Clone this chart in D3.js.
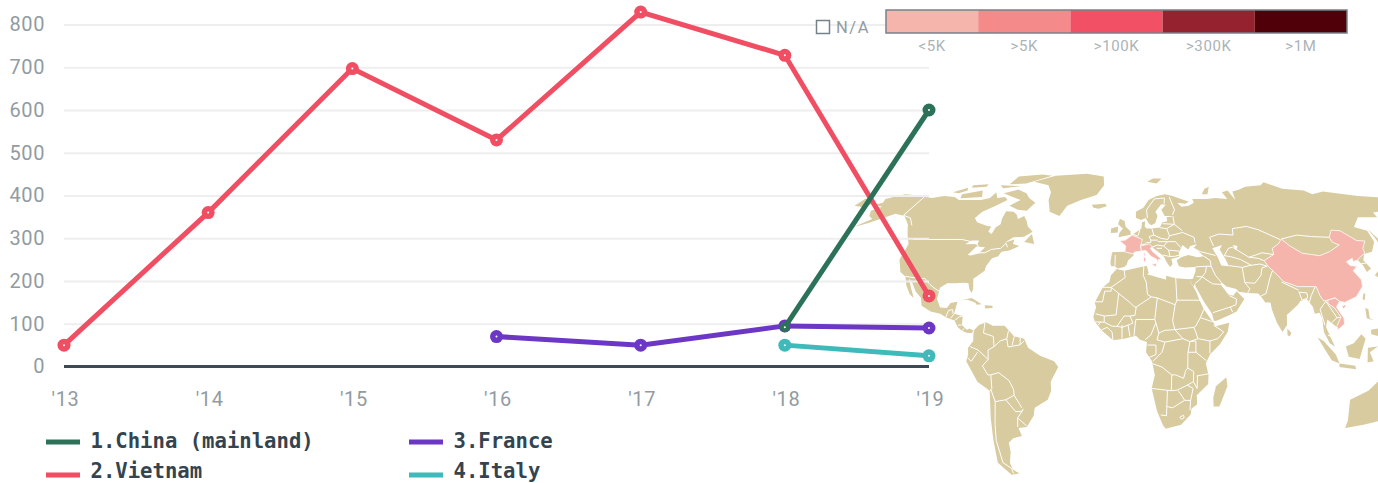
<!DOCTYPE html>
<html lang="en">
<head>
<meta charset="UTF-8">
<title>Line chart with world map</title>
<script src="https://d3js.org/d3.v7.min.js"></script>
<style>
  html, body { margin: 0; padding: 0; background: #fff; overflow: hidden; }
  svg { display: block; }
  text { font-family: Roboto, "Liberation Sans", sans-serif; }
  .axis text { font-size: 20px; fill: #929ba1; letter-spacing: 0.6px; }
  .axis path { display: none; }
  .y-axis line { stroke: #eeeeee; stroke-width: 2px; }
  .x-axis line { display: none; }
  .legend-label { font-family: "DejaVu Sans Mono", monospace; font-size: 20.6px; font-weight: 700; fill: #34444f; }
  .scale-label { font-size: 15px; fill: #abb3b8; letter-spacing: 0.6px; }
  .na-label { font-size: 16.5px; fill: #929ba1; letter-spacing: 1.6px; }
</style>
</head>
<body>
<svg width="1378" height="483"></svg>
<script>
// chart data
const years = ["'13", "'14", "'15", "'16", "'17", "'18", "'19"];
const yTicks = [0, 100, 200, 300, 400, 500, 600, 700, 800];
const vietnam = [50, 360, 697, 530, 829, 728, 165];
const france = [null, null, null, 70, 50, 95, 90];
const italy = [null, null, null, null, null, 50, 25];
const china = [null, null, null, null, null, 92, 600];

const legendNames = ["1.China (mainland)", "2.Vietnam", "3.France", "4.Italy"];
const scaleLabels = ["<5K", ">5K", ">100K", ">300K", ">1M"];
const scaleColors = ["#f5b5ac", "#f48a8a", "#f25065", "#94222f", "#4f0008"];

// map data, [lon, lat]
const landShapes = [
  // north america
  [[-168,65.5],[-164,66.5],[-166,68.5],[-157,71],[-150,70.5],[-141,69.6],[-135,69],[-128,70],[-120,69.5],[-115,68],[-108,68],[-100,68],[-95,69],[-94,72],[-90,69],[-85,69.5],[-82,68],[-87,65],[-93,62],[-95,59],[-92,57],[-85,55.3],[-82,55],[-82,52.5],[-79.5,51.5],[-79,54.5],[-77,56],[-78,59],[-78,62.3],[-73,62],[-70,60.5],[-68,58.5],[-65,60],[-62,57.5],[-60,55],[-56,52.5],[-60,50.2],[-66,50],[-70,47.5],[-65,49],[-65,47],[-61,46],[-66,44],[-70,43.5],[-71,41.5],[-74,40.5],[-76,37],[-76,35],[-81,31.5],[-80,27],[-80.5,25.2],[-82,27],[-83,29.5],[-85,29.7],[-90,29.5],[-94,29.5],[-97.3,27.5],[-97.7,22.5],[-95.5,18.8],[-92,18.6],[-90.5,20.8],[-87,21.3],[-88,16],[-83.5,15],[-83.5,11],[-81,9],[-79.5,9.5],[-77.5,8.5],[-78,7.5],[-80.5,7.5],[-83,8.3],[-85.5,10],[-87.5,13],[-92,14.5],[-95,16],[-100,17],[-105,19.5],[-106,23],[-109.5,26],[-112.5,30],[-114.7,31.5],[-112,27],[-109.7,23],[-112,24.5],[-115,28.5],[-117,32.5],[-120.5,34.5],[-124,40],[-124,47],[-128,51],[-133,56],[-140,60],[-147,61],[-152,59],[-158,56.5],[-164,54.7],[-158,58.5],[-162,60],[-165,62.5],[-161,64.5]],
  // arctic canada and greenland
  [[-80,73.5],[-72,71.5],[-68,69],[-62,66.5],[-65,62.5],[-71,63],[-78,65],[-73,68],[-82,70],[-88,71.5]],
  [[-117,71],[-105,73],[-101,69.5],[-115,68.8]],
  [[-90,76.5],[-78,77],[-72,79],[-63,82],[-72,83],[-90,81.5]],
  [[-125,72],[-118,74.5],[-116,73],[-120,71.5]],
  [[-96,76],[-80,75.5],[-92,74.3]],
  [[-117,76],[-106,76.5],[-105,75],[-115,74.5]],
  [[-59,47.8],[-56,51.5],[-53,47]],
  [[-73,78],[-60,82],[-35,83.5],[-20,81.5],[-18,76],[-22,70.5],[-32,68],[-40,65],[-43,60],[-50,62],[-54,68],[-55,72],[-60,76]],
  [[-24,65.5],[-15,66],[-14,64.7],[-19,63.5],[-22.5,64]],
  // caribbean
  [[-85,22],[-80,23],[-74.5,20.2],[-77,20],[-78,21],[-82,22.2]],
  [[-73,19.8],[-69,19.6],[-68.8,18.5],[-72.5,18.3]],
  // south america
  [[-77.5,8.5],[-75,11],[-71.5,12.3],[-68,10.7],[-62,10.7],[-57,6],[-52,5],[-50,1],[-44,-2.5],[-37,-5],[-35,-7.5],[-39,-14],[-39,-18],[-41,-22],[-48,-25.5],[-49,-29],[-53.5,-34],[-58,-34.5],[-57,-38],[-62,-39],[-65,-41],[-65.5,-45],[-68,-50],[-68,-53],[-65,-55],[-70,-55.5],[-75,-50],[-73,-40],[-71.5,-30],[-70.2,-18],[-76,-14],[-81,-5],[-80,-2],[-80,1],[-77.5,4],[-77.5,7]],
  // africa
  [[-6,35.8],[-2,35],[10,37.2],[11,34],[10,33.5],[15,32.3],[20,31],[20,32.8],[25,31.7],[32.5,31.2],[32.5,30],[35,26],[37,21],[38.5,18],[43,12],[44,10.5],[51,12],[50,8],[46,2.5],[41,-2],[39,-6],[40.5,-11],[40.5,-15],[35,-20],[35.5,-24],[32.7,-26],[32.5,-28.5],[28,-33],[20,-34.8],[18.3,-33],[15,-27],[12,-17],[13.5,-11],[12,-5],[9,-1],[9.5,3.5],[6,4.5],[4,6.3],[-2,5],[-7.5,4.3],[-13,8.5],[-16.7,12.5],[-17.5,14.7],[-16.2,19],[-17,21],[-13,27.7],[-9.7,30],[-9,33]],
  [[49.5,-12],[50.3,-16],[47,-25],[44,-25],[43.5,-21],[44.5,-16]],
  // eurasia
  [[-9,37],[-9.5,38.7],[-8.8,43.2],[-2,43.5],[-1.2,46],[-4.7,48.4],[-1.5,48.7],[1.5,50.5],[4,52],[8,54],[8.5,57],[10.5,57.5],[10,55],[11,54],[14,54],[19,54.5],[21,57],[24,57.5],[24,59.4],[30,60],[23,60],[21.5,63],[25,65.5],[22,65.7],[17.5,62],[18.5,60],[16.5,56.5],[14,55.5],[12.5,56.5],[11,59],[8,58],[5,59],[5,62],[10,64],[14,68],[20,70],[26,71],[31,70],[41,67],[38,66],[33,66.5],[35,64.5],[40,65],[44,66.5],[44,68.5],[54,68.5],[60,69],[68,68.5],[67,72],[72,73],[73,68],[75,72.5],[81,73.5],[87,75],[100,76],[105,77.7],[113,74],[127,73],[130,71],[140,72.5],[160,70],[170,69.5],[180,69],[180,65],[177,62.5],[170,60],[163,60],[163,56],[157,51],[155.5,57],[164,62.5],[156,61.7],[155,59.3],[143,59.3],[135,54.7],[141,53],[140,48],[135,43.5],[130,42.5],[127.5,39.8],[129.5,36],[126.5,34.5],[126,37.5],[124.5,39.8],[121.5,39],[122,40.5],[118,39],[119,37.3],[122.5,37],[119.5,35],[122,31],[121.5,28],[117,23.5],[110.5,21],[108,21.5],[106,19],[109,14],[109,11.5],[105.5,9],[105,10],[100.5,13.5],[99.5,10],[103.5,1.5],[101,3],[98.3,8],[98,14],[97,16.5],[94.5,16],[94,19],[91.5,22.5],[88,21.7],[86.5,20],[80.3,15.5],[80,11],[77.5,8],[75,12],[73,18],[72.7,21],[70,21],[69,22.5],[67,25],[61.5,25.2],[57,25.7],[56,27],[51,28],[48.5,30],[48,29],[50,26.5],[51.5,24.5],[54,24],[56,26],[59.5,22.5],[55,17],[52,15.7],[45,13],[43.3,12.8],[42.5,16],[39,21],[35,28],[34.8,29.5],[34,27.8],[32.6,30],[32.3,31.2],[34,31.5],[35.9,35],[36,36.7],[30.5,36.5],[27.3,37],[26.3,39.5],[29,41],[33,42],[38,41],[41.5,41.5],[38,44.5],[36.7,45.2],[39,47],[35,46],[33.5,44.5],[30.7,46.5],[28,43],[28,41.2],[26,40.8],[23.5,40.2],[24,38],[22.5,36.7],[21,38.5],[19.5,41.5],[15,44.5],[13.5,45.6],[12.4,45],[13.7,43.5],[16,41.8],[18.3,40],[16.5,40],[16,38],[15.7,40],[12.5,41.5],[10,44],[8,44],[3.5,43.3],[3,41.8],[0,39.5],[-0.7,37.7],[-2,36.7],[-5.5,36],[-7,37]],
  [[-180,68.9],[-175,67.5],[-170,66],[-173,64.3],[-180,65]],
  // islands
  [[-5.5,50],[1.5,51.2],[1.5,52.8],[-1.5,55],[-2,57.5],[-5,58.6],[-6,56],[-3,54],[-5,52]],
  [[-10,52],[-6,52.2],[-6,55],[-10,54]],
  [[15,78],[20,80],[27,80],[22,77]],
  [[52,71],[56,74],[68,77],[60,75],[56,71]],
  [[130,33],[132,34.5],[136,35.7],[140,38],[141,41],[142,45],[145,43.5],[141.5,42],[142,38.5],[140,35],[136,33.7],[132,31.5]],
  [[142,54],[143.5,49],[142,46],[142,50]],
  [[120,22.5],[121,25],[122,25],[121,22]],
  [[80,9.5],[82,7.5],[81,6],[80,6.5]],
  [[120.5,18.5],[122,18],[122,14],[124,13],[120.5,14]],
  [[122,9],[126,9.5],[126,6],[122,7]],
  [[95,5.5],[98,4],[104,-2],[106,-6],[102,-4.5],[98,1]],
  [[106,-6],[114,-7],[114.5,-8.5],[106,-7.5]],
  [[109,1.5],[113,3],[117,7],[119,5],[117.5,1],[116,-4],[110.5,-3]],
  [[120,1],[125,1.5],[121,-1],[123,-5],[120,-5.5]],
  [[131,-1],[141,-2.5],[147,-6],[150.5,-10.5],[144,-8],[138,-8],[133,-4]],
  [[113.5,-22],[122,-18],[126,-14],[131,-12],[136,-12],[135.5,-15],[140,-17.5],[142,-11],[146,-19],[153,-26],[150,-37],[143,-39],[138,-35],[131,-31.5],[124,-33],[115,-34.5],[115,-31]]
];
const waterShapes = [
  [[47,45],[53,46.5],[51,44.5],[53,40],[54,37],[50,37.3],[49,41]],
  [[-92,46.8],[-85,47],[-85,48.5],[-89,48.5]],
  [[-88,42],[-85,45.8],[-80,45.5],[-82,43],[-79,43.5],[-86,41.8]],
  [[59,46.5],[61.5,46],[60,44]]
];
const pinkShapes = [
  // china
  [[73.7,39.5],[80,42.2],[80.5,45],[85,47],[87.8,49.2],[91,46],[96,42.8],[105,41.7],[111.5,43.5],[119,46.5],[116,47.8],[116,50],[120,53.3],[125,53],[130.5,48.5],[135,48.3],[131,45],[130.5,42.8],[127.5,41.5],[124.5,39.8],[121.5,39],[122,40.5],[118,39],[119,37.3],[122.5,37],[119.5,35],[122,31],[121.5,28],[117,23.5],[110.5,21],[108,21.5],[106,23],[102,22],[100,21.7],[98.5,24],[97.5,28],[92,28],[88,28],[81,30.3],[78.8,33],[75,37]],
  [[108.7,19.3],[110.5,20],[111,19.5],[109.5,18.2]],
  // vietnam
  [[102,22],[106,23],[108,21.5],[106,19],[109,14],[109,11.5],[105.5,9],[105,10.5],[107.5,14.5],[105,18.5],[102,20.5]],
  // france
  [[-1.8,43.4],[3,42.5],[3.5,43.3],[7.5,43.8],[7,46],[8.2,49],[2.5,51],[1.5,50.5],[-1.5,48.7],[-4.7,48.4],[-1.2,46]],
  [[8.6,42.9],[9.5,43],[9.4,41.5],[8.8,41.5]],
  // italy
  [[7.5,43.8],[10,44],[12.5,41.5],[15.7,40],[16,38],[16.5,40],[18.3,40],[16,41.8],[13.7,43.5],[12.4,45],[13.6,45.7],[12,47],[7,46]],
  [[12.5,38],[15.5,38.2],[15,36.7]],
  [[8.3,41],[9.7,41],[9.6,39],[8.5,39]]
];
const borders = [
  // north america
  [[-141,69.6],[-141,60.3],[-135,59],[-130,55.5]],
  [[-123,49],[-95,49],[-89,48],[-84.5,46.5],[-82.5,43],[-79,43],[-76,44.5],[-71,45],[-69,47.3],[-67.5,45.5]],
  [[-117,32.5],[-108,31.5],[-106.5,31.7],[-103,29],[-99.5,27],[-97.3,26]],
  [[-92,14.5],[-91,17.5],[-89,17.8],[-88.5,16]],[[-89.5,14],[-88,15.8]],[[-87.5,13],[-85,14.8],[-83.5,15]],
  [[-85.5,11],[-83.7,11]],[[-83,8.5],[-82.5,9.5]],[[-77.5,8.5],[-77.9,7.3]],
  // south america
  [[-72,12],[-72.5,7.5],[-67.5,6],[-67,1.5],[-70,0],[-70,-4.2],[-73,-7],[-70.5,-11],[-69,-11],[-69,-17],[-69.5,-17.5],[-70.3,-18.3]],
  [[-79,1.5],[-75,0],[-70,-4.2]],[[-80.3,-3.4],[-78.5,-5],[-75.3,-1]],
  [[-69.5,-17.5],[-68,-22.8],[-70,-33],[-71.5,-40],[-72,-50],[-68.5,-52.5],[-68.5,-55]],
  [[-69,-11],[-65,-10],[-60,-13.5],[-58,-17.5],[-58,-20],[-55.5,-24],[-54.7,-25.5]],
  [[-58,-20],[-62.5,-22],[-68,-22.8]],[[-62.5,-22],[-58,-27.3],[-54.7,-27],[-54,-26]],
  [[-54.7,-27],[-57.5,-30],[-53.5,-33.5]],[[-57.5,-30],[-58.3,-34]],
  [[-60,8.5],[-60.7,5],[-60,1.3],[-54,2.3],[-52,4]],[[-57,6],[-58,2]],[[-54,5.7],[-54,2.3]],[[-67,1.5],[-64,4],[-60.7,5]],
  // africa
  [[-2,35],[-1.5,32],[-8.7,27.7],[-13,27.7]],[[-8.7,27.7],[-8.7,26],[-12,26],[-13,21.3],[-17,21.3]],
  [[-8.7,27.7],[-4.8,25],[1,21],[3.3,19],[4.2,19],[12,23.5],[15,23],[24,20],[25,22],[25,31.7]],
  [[-4.8,25],[-6,15.5],[-12,15],[-16.4,16]],[[8.5,37],[8,33],[9.5,30],[10,24.5],[12,23.5]],
  [[25,22],[36.8,22]],[[24,20],[22.5,13],[23.5,9]],[[15,23],[13.5,13.5]],[[4.2,19],[3.5,15.3],[1,15]],
  [[3,6.3],[3.6,11.5],[4,13.5],[13.5,13.5],[14,12],[11.5,6.7],[8.7,4.6]],
  [[-5.5,10.5],[-3,10],[0,11],[2.5,11.9],[1,15],[-2,15],[-5.5,10.5]],
  [[-16.7,12.4],[-12,12.3],[-8,10.5],[-5.5,10.5]],[[-12,12.3],[-12,15]],[[-15,10.9],[-13.7,12.6]],
  [[-13,9],[-10.5,10],[-8,8],[-7.5,4.3]],[[-3,5],[-3,11]],[[1,6],[0,11]],
  [[14,12],[15.5,7.5],[14.5,4.5],[18.5,3.5],[27.5,5],[23.5,9],[18.5,8.7],[15.5,7.5]],
  [[23.5,9],[33,10],[34,8],[35,5],[31,3.7],[27.5,5]],[[38.5,18],[36.5,14.3],[34,10.5],[33,10]],[[36.5,14.3],[42.5,12.5]],
  [[43,11],[48,8],[45,5],[41,4],[35,5]],[[41,4],[41,-1.5]],[[34,-1],[39.2,-4.7]],[[31,3.7],[34,4],[34,-1],[30,-1],[31,3.7]],
  [[12.5,-5],[17,-1],[18.5,3.5]],[[9.8,2.2],[14,2.2],[14,-2],[10,-3.5]],
  [[12.2,-6],[17,-7.5],[22,-11],[24,-11],[28,-12.5],[29,-9],[30,-8],[30,-1]],
  [[34.5,-11.5],[40.5,-10.5]],[[30,-8],[33,-9.5],[33,-14],[35,-17],[35,-11.5]],
  [[22,-11],[22,-18]],[[12,-17],[22,-18],[25,-17.7],[30,-15.5],[33,-17],[32,-22.3],[29,-22.2],[25.5,-18]],
  [[20,-18],[20,-29],[17,-28.7]],[[20,-25],[23,-25.5],[29,-22.2]],[[32,-22.3],[32,-26.7]],[[30,-15.5],[33,-14]],
  [[27,-29.7],[28.7,-28.8],[29.3,-29.9],[28,-30.6],[27,-29.7]],
  // europe
  [[-7,37.2],[-7,42]],[[6,51],[7,53.5]],[[3,51.3],[6,50.5]],[[14.2,54],[15,51],[12.2,50.3],[13,48.7],[17,48.7]],
  [[10,47.5],[13,47.7],[13,48.7]],[[6,46.3],[10,47]],[[19,54.4],[23,54],[24,50.7],[22.8,49],[19,49.5],[15,51]],
  [[24,50.7],[32,52.2],[38,50],[38,47.5]],[[17,48],[22.5,48],[20,46],[16.5,46.5],[13.5,45.5]],[[22.5,48],[27,48],[29.5,45.3]],
  [[20,46],[22.5,44.2],[28.5,43.7]],[[22.5,44.2],[23,41.3],[26,41.5],[28,42]],[[19,42],[23,41.3]],[[19,45],[16,45]],
  [[12,59],[12,63],[18,68.5],[25,69],[24,66]],[[28.5,69.5],[30,63],[28,60.5]],[[21,56.3],[28,56],[28,59.5]],[[23,54],[28,56],[32,53]],
  // asia
  [[48,46],[47,50],[53,51.5],[61,51],[62,54],[71,55],[77,53.5],[87,49]],[[52.5,41.5],[56,45],[58.5,45.5],[61,44],[66,41],[70,42],[74,43],[80,42.2]],
  [[87.8,49.2],[98,51],[106,50.3],[116,50]],[[37,44.8],[40,43.5],[48,41.8]],[[41.5,41.5],[44.5,39.5],[44.5,37],[46,33],[48.5,30]],
  [[36,36.7],[42,37],[44.5,37]],[[42,37],[41,34.3],[39,32.3],[36,32.5]],[[35,29.5],[37.5,31],[39,32.3],[44,29.2],[48,29]],
  [[43,16.5],[52,19],[55,20],[55.5,22.5],[52,24]],[[52,19],[53,16.7]],[[53.8,37.3],[61,36.5],[60.8,30],[61,29.5],[63,27],[61.5,25.2]],
  [[60.8,29.8],[66,29.5],[70,33],[71.5,36.3],[74.5,37]],[[61,36.5],[65,37.3],[71,38],[74.5,37]],[[52.7,41.7],[56,41.3],[61,40],[66,37.5]],
  [[66,41],[71,40.5],[73.5,39.5]],[[68,23.8],[71,25],[74.5,32],[77,35.5]],[[80,30],[88,26.5]],[[88,26],[89,22],[92,23],[92,25.2],[88.5,25.5]],
  [[92.5,21],[94,24],[97,28]],[[98.5,24],[101,21.5],[97.5,18],[99,11]],[[101,21.5],[105.5,14.3]],[[102.5,12],[105.5,14.3],[107.5,14.5]],
  [[100.2,6.5],[102,6]],[[125,38],[128.5,38.5]],[[141,-2.5],[141,-9]]
];

const svg = d3.select("svg");

// Robinson table, every 5 degrees of latitude
const robinsonLen = [1,.9986,.9954,.99,.9822,.973,.96,.9427,.9216,.8962,.8679,.835,.7986,.7597,.7186,.6732,.6213,.5722,.5322];
const robinsonDepth = [0,.062,.124,.186,.248,.31,.372,.434,.4958,.5571,.6176,.6769,.7346,.7903,.8435,.8936,.9394,.9761,1];
const lenAt = d3.scaleLinear().domain(d3.range(0, 95, 5)).range(robinsonLen);
const depthAt = d3.scaleLinear().domain(d3.range(0, 95, 5)).range(robinsonDepth);
function robinsonRaw(lambda, phi) {
  const deg = Math.abs(phi) * 180 / Math.PI;
  return [0.8487 * lenAt(deg) * lambda, 1.3523 * depthAt(deg) * Math.sign(phi)];
}
const projection = d3.geoProjection(robinsonRaw).scale(135).translate([1128, 350]);
const mapLine = d3.line(p => projection(p)[0], p => projection(p)[1]);

// map goes under the chart
const map = svg.append("g");
map.selectAll(".land").data(landShapes).enter().append("path")
  .attr("d", d => mapLine(d) + "Z").attr("fill", "#d8cb9f");
map.selectAll(".water").data(waterShapes).enter().append("path")
  .attr("d", d => mapLine(d) + "Z").attr("fill", "#fff");
map.selectAll(".border").data(borders).enter().append("path")
  .attr("d", mapLine).attr("fill", "none").attr("stroke", "#fff").attr("stroke-width", 1);
map.selectAll(".pink").data(pinkShapes).enter().append("path")
  .attr("d", d => mapLine(d) + "Z").attr("fill", scaleColors[0]).attr("stroke", "#fff").attr("stroke-width", 0.8);

// scales and axes
const x = d3.scalePoint().domain(years).range([64, 929]);
const y = d3.scaleLinear().domain([0, 800]).range([366.5, 24.5]);

svg.append("g").attr("class", "axis y-axis")
  .attr("transform", "translate(64,0)")
  .call(d3.axisLeft(y).tickValues(yTicks).tickSize(-865).tickPadding(19).tickFormat(d3.format("d")));
svg.selectAll(".y-axis line").attr("x1", 0);
svg.append("g").attr("class", "axis x-axis")
  .attr("transform", "translate(1,366.5)")
  .call(d3.axisBottom(x).tickSize(0).tickPadding(25));

svg.append("line")
  .attr("x1", x(years[0])).attr("x2", x(years[6]))
  .attr("y1", y(0)).attr("y2", y(0))
  .attr("stroke", "#3b4a54").attr("stroke-width", 3);

// lines and dots
const series = [
  {values: vietnam, color: "#f04e63"},
  {values: france, color: "#6c37c4"},
  {values: italy, color: "#3fb9b9"},
  {values: china, color: "#2c7259"}
];
const line = d3.line()
  .defined(d => d != null)
  .x((d, i) => x(years[i]))
  .y(d => y(d));

series.forEach(s => {
  svg.append("path")
    .attr("d", line(s.values))
    .attr("fill", "none")
    .attr("stroke", s.color)
    .attr("stroke-width", 5);
  const points = s.values.map((v, i) => ({v, year: years[i]})).filter(p => p.v != null);
  svg.append("g").selectAll("circle").data(points).enter().append("circle")
    .attr("cx", p => x(p.year)).attr("cy", p => y(p.v))
    // the green '18 dot sits inside the purple one
    .attr("r", p => s.values === china && p.year === "'18" ? 5 : 6.5)
    .attr("fill", s.color);
  svg.append("g").selectAll("circle").data(points).enter().append("circle")
    .attr("cx", p => x(p.year)).attr("cy", p => y(p.v))
    .attr("r", 1).attr("fill", "#fff");
});

// series legend
const legendColors = [china, vietnam, france, italy].map(v => series.find(s => s.values === v).color);
const legendX = [46, 46, 409, 409];
const legendY = [442, 475, 442, 475];
const legendBase = [448, 478, 448, 478];
legendNames.forEach((name, i) => {
  svg.append("rect")
    .attr("x", legendX[i]).attr("y", legendY[i] - 2.5)
    .attr("width", 34).attr("height", 5)
    .attr("fill", legendColors[i]);
  svg.append("text").attr("class", "legend-label")
    .attr("x", legendX[i] + 44.5).attr("y", legendBase[i])
    .text(name);
});

// colour scale legend
const band = d3.scaleBand().domain(scaleLabels).range([886, 1347]);
svg.append("g").selectAll("rect").data(scaleLabels).enter().append("rect")
  .attr("x", d => band(d)).attr("y", 10)
  .attr("width", band.bandwidth()).attr("height", 23)
  .attr("fill", (d, i) => scaleColors[i]);
svg.append("rect")
  .attr("x", 886).attr("y", 10).attr("width", 461).attr("height", 23)
  .attr("fill", "none").attr("stroke", "#76828a").attr("stroke-width", 1.5);
svg.append("g").selectAll("text").data(scaleLabels).enter().append("text")
  .attr("class", "scale-label")
  .attr("x", d => band(d) + band.bandwidth() / 2).attr("y", 51)
  .attr("text-anchor", "middle")
  .text(d => d);

svg.append("rect")
  .attr("x", 816.5).attr("y", 20.5).attr("width", 13).attr("height", 13)
  .attr("fill", "#fff").attr("stroke", "#76828a").attr("stroke-width", 1.5);
svg.append("text").attr("class", "na-label")
  .attr("x", 836).attr("y", 33).text("N/A");
</script>
</body>
</html>
